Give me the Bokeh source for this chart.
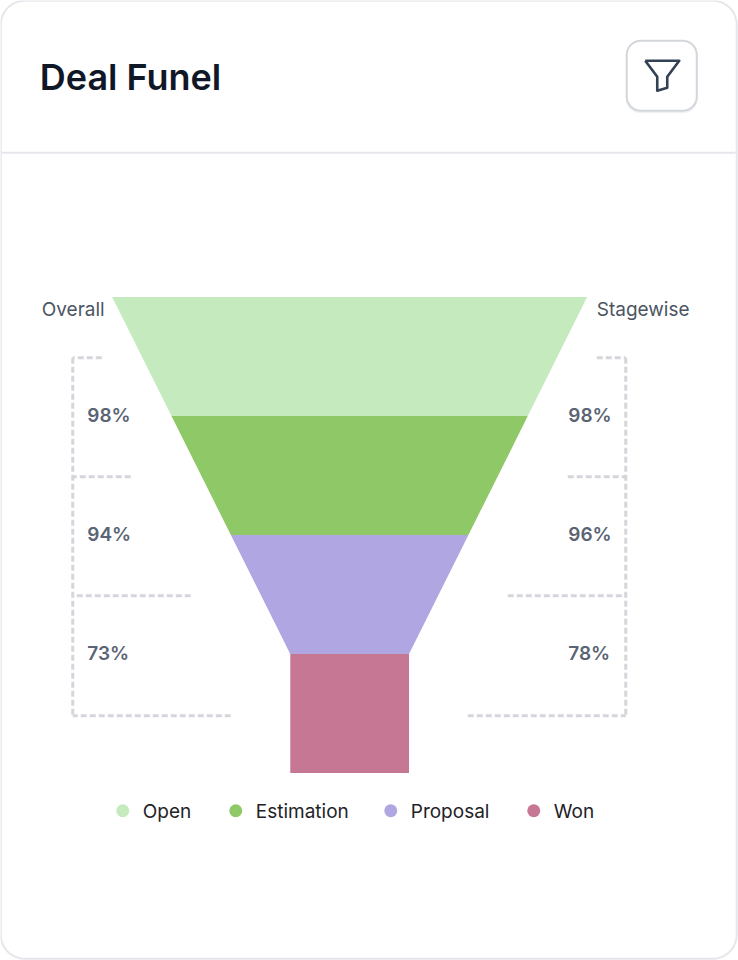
import math
from bokeh.core.properties import value
from bokeh.embed import file_html
from bokeh.models import Range1d
from bokeh.plotting import figure
from bokeh.resources import INLINE

# ---- data ----
title_text = "Deal Funel"
stages = ["Open", "Estimation", "Proposal", "Won"]
stage_widths = [100, 75, 50, 25]
overall_pct = ["98%", "94%", "73%"]
stagewise_pct = ["98%", "96%", "78%"]
overall_label = "Overall"
stagewise_label = "Stagewise"
stage_colors = ["#C5EABD", "#8FC866", "#B0A6E2", "#C57794"]

# ---- layout constants ----
W, H = 738, 960
SHIFT = 0.75
PX_PER_UNIT = 4.75
CX = 349.9 - SHIFT
TOP = 297.3 - SHIFT
ROW = 119
FONT = value("Inter")
FONT_SEMI = value("'Inter SemiBold', Inter")

p = figure(
    width=W, height=H, output_backend="svg", toolbar_location=None,
    x_range=Range1d((0 - CX) / PX_PER_UNIT, (W - CX) / PX_PER_UNIT),
    y_range=Range1d((H - TOP) / ROW, (0 - TOP) / ROW),
    min_border=0, outline_line_color=None,
    background_fill_color="white", border_fill_color="white",
)
p.axis.visible = False
p.grid.visible = False
p.extra_x_ranges["px"] = Range1d(SHIFT, W + SHIFT)
p.extra_y_ranges["px"] = Range1d(H + SHIFT, SHIFT)
p.styles = {"position": "absolute", "left": "0", "top": "0"}


def rounded(x0, y0, x1, y1, r, n=10):
    xs, ys = [], []
    corners = [(x1 - r, y0 + r, -90), (x1 - r, y1 - r, 0), (x0 + r, y1 - r, 90), (x0 + r, y0 + r, 180)]
    for cx, cy, a0 in corners:
        for i in range(n + 1):
            a = math.radians(a0 + 90 * i / n)
            xs.append(cx + r * math.cos(a))
            ys.append(cy + r * math.sin(a))
    return xs, ys


px = dict(x_range_name="px", y_range_name="px")

# card
xs, ys = rounded(1, 1, 737, 959, 24)
p.patch(xs, ys, fill_color="white", line_color="#E5E7EB", line_width=2, **px)
p.line([2, 736], [153, 153], line_color="#E5E7EB", line_width=2, **px)
p.text([40], [77.5], text=[title_text], text_font=FONT_SEMI, text_font_size="36px",
       text_color="#101828", text_baseline="middle", **px)

# filter button
xs, ys = rounded(627, 42.5, 697, 112.5, 14)
p.patch(xs, ys, fill_color="white", line_color="#F0F1F3", line_width=2, **px)
xs, ys = rounded(627, 41, 697, 111, 14)
p.patch(xs, ys, fill_color="white", line_color="#D3D6DB", line_width=2, **px)
icon_x = [645.5, 679.5, 667.5, 667.5, 657.5, 657.5, 645.5]
icon_y = [61, 61, 77, 88, 91, 77, 61]
p.line(icon_x, icon_y, line_color="#344054", line_width=2.6, line_join="round", **px)

# funnel
next_w = stage_widths[1:] + stage_widths[-1:]
for i, (w0, w1, c) in enumerate(zip(stage_widths, next_w, stage_colors)):
    p.patch([-w0 / 2, w0 / 2, w1 / 2, -w1 / 2], [i, i, i + 1, i + 1], fill_color=c, line_color=None)

# brackets
DASH = dict(line_color="#D5D6DC", line_width=3, line_dash=[6, 3])
reach = [29, 58, 118, 158]
LX, RX = 73, 626
p.line([LX, LX], [358, 716], **DASH, **px)
p.line([RX, RX], [358, 716], **DASH, **px)
for i, d in enumerate(reach):
    y = 358 + ROW * i + (1 if i == 3 else 0)
    p.line([LX + d, LX], [y, y], **DASH, **px)
    p.line([RX - d, RX], [y, y], **DASH, **px)

# labels
LABEL = "#4B5563"
p.text([42], [309.3], text=[overall_label], text_font=FONT, text_font_size="19px", text_color=LABEL,
       text_baseline="middle", **px)
p.text([597], [309.3], text=[stagewise_label], text_font=FONT, text_font_size="19px", text_color=LABEL,
       text_baseline="middle", **px)
for i, (a, b) in enumerate(zip(overall_pct, stagewise_pct)):
    y = 415.3 + ROW * i
    for x, t in ((87.5, a), (568.5, b)):
        p.text([x], [y], text=[t], text_font=FONT_SEMI, text_font_size="19px",
               text_color="#5A6474", text_baseline="middle", **px)

# legend
marker_x = [123, 236, 391, 534]
for name, c, x in zip(stages, stage_colors, marker_x):
    p.scatter([x], [811], marker="circle", size=13, fill_color=c, line_color=None, **px)
    p.text([x + 20], [811.3], text=[name], text_font=FONT, text_font_size="19px", text_color="#1F2328",
           text_baseline="middle", **px)

open("out.html", "w").write(file_html(p, INLINE))
